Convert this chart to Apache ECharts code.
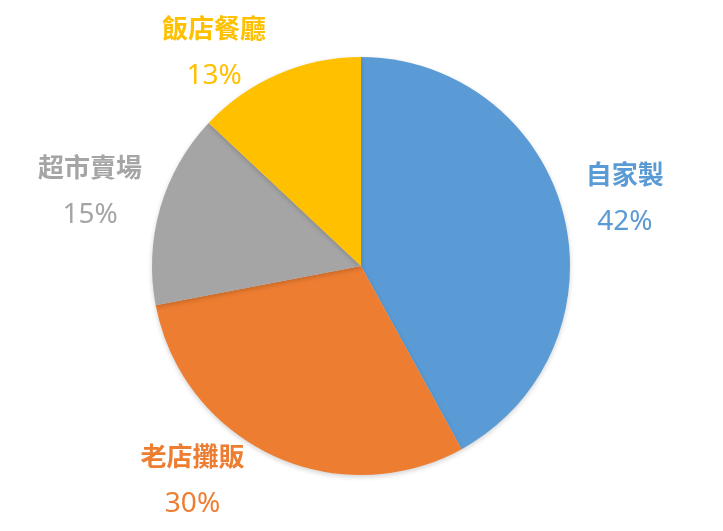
<!DOCTYPE html>
<html><head><meta charset="utf-8">
<script src="https://cdn.jsdelivr.net/npm/echarts@6/dist/echarts.min.js"></script>
<style>html,body{margin:0;padding:0;background:#fff}#c{width:723px;height:531px}</style>
</head><body><div id="c"></div>
<script>
var categories = ['自家製', '老店攤販', '超市賣場', '飯店餐廳'];
var values = [42, 30, 15, 13];
var colors = ['#5B9BD5', '#ED7D31', '#A5A5A5', '#FFC000'];
var labelShift = [[-2, -11], [-14, 7], [6, -11], [1, -4]];

var chart = echarts.init(document.getElementById('c'), null, {renderer: 'canvas'});
chart.setOption({
  animation: false,
  series: [{
    type: 'pie',
    center: [361, 266],
    radius: 209,
    startAngle: 90,
    clockwise: true,
    data: categories.map(function (n, i) {
      return {name: n, value: values[i], itemStyle: {color: colors[i]},
        label: {color: colors[i]}};
    }),
    itemStyle: {borderWidth: 0, shadowBlur: 5, shadowOffsetY: 2, shadowColor: 'rgba(0,0,0,0.18)'},
    label: {
      position: 'outside',
      formatter: '{n|{b}}\n{p|{c}%}',
      rich: {
        n: {fontFamily: '"Noto Sans CJK TC"', fontSize: 26, fontWeight: 'bold', lineHeight: 48, align: 'center', color: 'inherit'},
        p: {fontFamily: '"Noto Sans", "Open Sans"', fontSize: 28, lineHeight: 48, align: 'center', color: 'inherit'}
      }
    },
    labelLine: {show: false, length: 20, length2: 0},
    labelLayout: function (params) {
      var s = labelShift[params.dataIndex];
      return {dx: s[0], dy: s[1]};
    }
  }]
});
</script></body></html>
